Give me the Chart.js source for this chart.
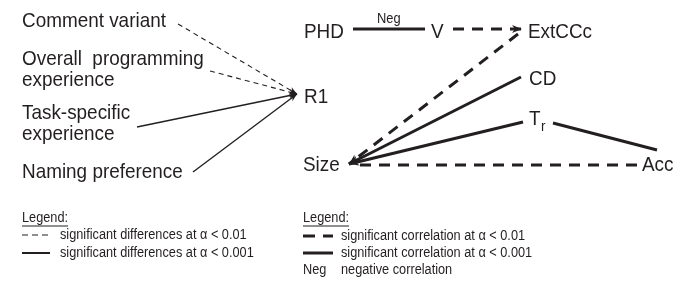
<!DOCTYPE html>
<html><head><meta charset="utf-8">
<script src="https://cdn.jsdelivr.net/npm/chart.js@4"></script>
<style>html,body{margin:0;padding:0;background:#fff}#wrap{width:688px;height:281px}</style>
</head><body><div id="wrap"><canvas id="c" width="688" height="281"></canvas></div>
<script>
// ---- diagram data (diagram units == reference pixels) ----
// node / text labels
const labelText = ["Comment variant","Overall  programming","experience","Task-specific","experience","Naming preference","R1",
                   "PHD","V","ExtCCc","CD","T","Size","Acc","Neg"];
const labelX    = [22,22,22,22,22,22,304, 304,431,528,529,529,303,642,377];
const labelY    = [21,59,80,113,134,172,97, 32,32,32,79,119,165,165,19];
const labelRole = ["node","node","node","node","node","node","node","node","node","node","node","nodeSub","node","node","small"];

// edges: endpoints, significance level, group, arrow at end
const edgeX1 = [178,210,137,193, 353,453,518,521,523,553,637];
const edgeY1 = [24, 71, 127,172, 29, 29, 34, 77, 122,123,165];
const edgeX2 = [297,297,297,297, 425,522,349,349,349,657,355];
const edgeY2 = [94, 94, 94, 94,  29, 29, 164,164,164,150,165];
const edgeAlpha = ["0.01","0.01","0.001","0.001", "0.001","0.01","0.01","0.001","0.001","0.001","0.01"];
const edgeGroup = ["diff","diff","diff","diff", "corr","corr","corr","corr","corr","corr","corr"];
const edgeArrow = [true,true,true,true, false,true,true,true,true,false,false];

// legends
const legendTitleX = [22,303];
const legendTitleY = [218,218];
const legendRowText = ["significant differences at \u03b1 < 0.01","significant differences at \u03b1 < 0.001",
                       "significant correlation at \u03b1 < 0.01","significant correlation at \u03b1 < 0.001"];
const legendRowAlpha = ["0.01","0.001","0.01","0.001"];
const legendRowGroup = ["diff","diff","corr","corr"];
const legendRowX = [22,22,303,303];
const legendRowY = [235,253,236,253];
const negNote = {key:"Neg", text:"negative correlation", x:303, y:270};

// ---- styles ----
const INK = "#231f20";
const styleOf = (group, alpha) => {
  if (group === "diff") return alpha === "0.01" ? {w:1.1, dash:[5,4]} : {w:1.4, dash:[]};
  return alpha === "0.01" ? {w:3, dash:[11,8]} : {w:3, dash:[]};
};
const FONT = '"Liberation Sans", Arial, sans-serif';

const datasets = [];
edgeX1.forEach((x1,i)=>{
  const s = styleOf(edgeGroup[i], edgeAlpha[i]);
  datasets.push({data:[{x:x1,y:edgeY1[i]},{x:edgeX2[i],y:edgeY2[i]}], showLine:true, borderColor:INK,
    borderWidth:s.w, borderDash:s.dash, borderCapStyle:'butt', pointRadius:0, arrow:edgeArrow[i], tension:0});
});
legendRowX.forEach((x,i)=>{
  const s = styleOf(legendRowGroup[i], legendRowAlpha[i]);
  const len = legendRowGroup[i]==="diff" ? 28 : 30;
  const dash = legendRowGroup[i]==="corr" && legendRowAlpha[i]==="0.01" ? [12,8] : (legendRowGroup[i]==="diff" && legendRowAlpha[i]==="0.01" ? [6,4] : []);
  datasets.push({data:[{x:x,y:legendRowY[i]},{x:x+len,y:legendRowY[i]}], showLine:true, borderColor:INK,
    borderWidth: legendRowGroup[i]==="diff" && legendRowAlpha[i]==="0.001" ? 2 : s.w, borderDash:dash, borderCapStyle:'butt', pointRadius:0, arrow:false});
});

const arrowPlugin = {
  id:'arrows',
  afterDatasetsDraw(chart){
    const ctx = chart.ctx, xs = chart.scales.x, ys = chart.scales.y;
    ctx.save(); ctx.fillStyle = INK;
    chart.data.datasets.forEach(ds=>{
      if(!ds.arrow) return;
      const a = ds.data[0], b = ds.data[1];
      const ax = xs.getPixelForValue(a.x), ay = ys.getPixelForValue(a.y);
      const bx = xs.getPixelForValue(b.x), by = ys.getPixelForValue(b.y);
      const ang = Math.atan2(by-ay, bx-ax);
      const L = ds.borderWidth>2 ? 10 : 8, W = ds.borderWidth>2 ? 4 : 3;
      ctx.beginPath();
      ctx.moveTo(bx,by);
      ctx.lineTo(bx - L*Math.cos(ang) + W*Math.sin(ang), by - L*Math.sin(ang) - W*Math.cos(ang));
      ctx.lineTo(bx - L*0.7*Math.cos(ang), by - L*0.7*Math.sin(ang));
      ctx.lineTo(bx - L*Math.cos(ang) - W*Math.sin(ang), by - L*Math.sin(ang) + W*Math.cos(ang));
      ctx.closePath(); ctx.fill();
    });
    ctx.restore();
  }
};

// condensed text drawing (reference typeface is a narrow grotesque)
function drawText(ctx, t, x, y, size, sx){
  ctx.save(); ctx.font = size+'px '+FONT; ctx.translate(x,y); ctx.scale(sx,1); ctx.fillText(t,0,0);
  const w = ctx.measureText(t).width*sx; ctx.restore(); return w;
}

const textPlugin = {
  id:'texts',
  afterDraw(chart){
    const ctx = chart.ctx, xs = chart.scales.x, ys = chart.scales.y;
    ctx.save(); ctx.fillStyle = INK; ctx.textBaseline = 'middle'; ctx.textAlign='left';
    labelText.forEach((t,i)=>{
      const px = xs.getPixelForValue(labelX[i]), py = ys.getPixelForValue(labelY[i]);
      if (labelRole[i]==="small"){ drawText(ctx,t,px,py,14,0.92); return; }
      const w = drawText(ctx,t,px,py+0.5,21,0.9);
      if (labelRole[i]==="nodeSub") drawText(ctx,'r',px+w+0.5,py+8,15,0.9);
    });
    legendTitleX.forEach((x,i)=>{
      const px = xs.getPixelForValue(x), py = ys.getPixelForValue(legendTitleY[i]);
      const w = drawText(ctx,'Legend:',px,py,14,0.91);
      ctx.fillRect(px, py+7.5, w, 1);
    });
    legendRowText.forEach((t,i)=>{
      drawText(ctx, t, xs.getPixelForValue(legendRowX[i]+38), ys.getPixelForValue(legendRowY[i]), 14, 0.91);
    });
    drawText(ctx, negNote.key, xs.getPixelForValue(negNote.x), ys.getPixelForValue(negNote.y), 14, 0.91);
    drawText(ctx, negNote.text, xs.getPixelForValue(negNote.x+38), ys.getPixelForValue(negNote.y), 14, 0.91);
    ctx.restore();
  }
};

new Chart(document.getElementById('c'), {
  type:'scatter',
  data:{datasets},
  options:{
    responsive:false, animation:false, events:[],
    layout:{padding:0},
    scales:{
      x:{type:'linear',min:0,max:688,display:false},
      y:{type:'linear',min:0,max:281,reverse:true,display:false}
    },
    plugins:{legend:{display:false},tooltip:{enabled:false}}
  },
  plugins:[arrowPlugin,textPlugin]
});
</script></body></html>
